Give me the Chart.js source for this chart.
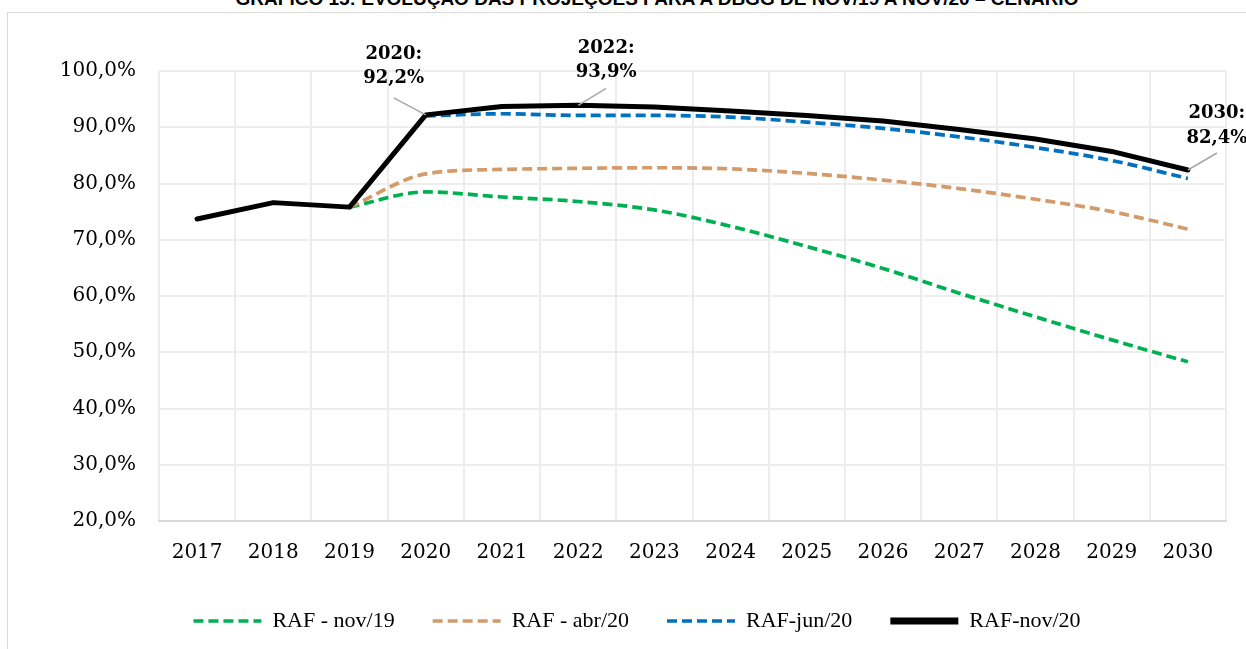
<!DOCTYPE html>
<html lang="pt">
<head>
<meta charset="UTF-8">
<title>Evolução das projeções para a DBGG</title>
<script src="https://cdn.jsdelivr.net/npm/chart.js"></script>
<style>
  html, body { margin: 0; padding: 0; background: #fff; overflow: hidden; }
  #title { position: absolute; top: -12px; left: 0; width: 1314px; text-align: center;
           font: bold 19px "Liberation Sans", sans-serif; white-space: nowrap; }
  #frame { position: absolute; left: 7px; top: 12px; width: 1300px; height: 700px;
           border: 1.5px solid #d9d9d9; }
  #wrap { position: absolute; left: 0; top: 0; width: 1246px; height: 649px; }
</style>
</head>
<body>
<div id="title">GRÁFICO 15: EVOLUÇÃO DAS PROJEÇÕES PARA A DBGG DE NOV/19 A NOV/20 – CENÁRIO</div>
<div id="frame"></div>
<div id="wrap"><canvas id="dbggChart" width="1246" height="649"></canvas></div>

<script>
// anos e projeções (% do PIB)
const years = ['2017', '2018', '2019', '2020', '2021', '2022', '2023', '2024', '2025', '2026', '2027', '2028', '2029', '2030'];
const rafNov19 = [null, null, 75.8, 78.5, 77.6, 76.8, 75.3, 72.4, 68.8, 64.9, 60.5, 56.3, 52.2, 48.3];
const rafAbr20 = [null, null, 75.8, 81.7, 82.5, 82.7, 82.8, 82.6, 81.8, 80.6, 79.1, 77.2, 75.0, 71.9];
const rafJun20 = [null, null, null, 92.0, 92.4, 92.1, 92.1, 91.8, 90.9, 89.8, 88.3, 86.4, 84.1, 80.9];
const rafNov20 = [73.7, 76.6, 75.8, 92.2, 93.7, 93.9, 93.6, 92.9, 92.1, 91.1, 89.6, 87.9, 85.7, 82.4];
const seriesNames = ['RAF - nov/19', 'RAF - abr/20', 'RAF-jun/20', 'RAF-nov/20'];
const yMin = 20, yMax = 100, yStep = 10;
const labelledYears = ['2020', '2022', '2030'];

const fmt = v => v.toFixed(1).replace('.', ',') + '%';

// rótulos de destaque da série RAF-nov/20 com linha de chamada
const callouts = {
    '2020': { dx: -32, lines: [-61, -37], lead: -17 },
    '2022': { dx: 28, lines: [-57, -33], lead: -17 },
    '2030': { dx: 29, lines: [-57, -32], lead: -17 }
};

const calloutPlugin = {
    id: 'callouts',
    afterDatasetsDraw(chart) {
        const ctx = chart.ctx;
        const xs = chart.scales.x, ys = chart.scales.y;
        ctx.save();
        labelledYears.forEach(yr => {
            const i = years.indexOf(yr);
            const c = callouts[yr];
            const px = xs.getPixelForValue(i);
            const py = ys.getPixelForValue(rafNov20[i]);
            ctx.strokeStyle = '#a6a6a6';
            ctx.lineWidth = 1.5;
            ctx.beginPath();
            ctx.moveTo(px, py);
            ctx.lineTo(px + c.dx, py + c.lead);
            ctx.stroke();
            ctx.fillStyle = '#000';
            ctx.font = 'bold 18px "DejaVu Serif"';
            ctx.textAlign = 'center';
            ctx.textBaseline = 'middle';
            ctx.fillText(yr + ':', px + c.dx, py + c.lines[0]);
            ctx.fillText(fmt(rafNov20[i]), px + c.dx, py + c.lines[1]);
        });
        ctx.restore();
    }
};

const dashed = { borderWidth: 3.7, borderDash: [10, 5], borderCapStyle: 'butt', cubicInterpolationMode: 'monotone' };

const ctx = document.getElementById('dbggChart').getContext('2d');
new Chart(ctx, {
    type: 'line',
    data: {
        labels: years,
        datasets: [
            { label: seriesNames[0], data: rafNov19, borderColor: '#00b050', backgroundColor: '#00b050', order: 3, ...dashed },
            { label: seriesNames[1], data: rafAbr20, borderColor: '#d39a6a', backgroundColor: '#d39a6a', order: 2, ...dashed },
            { label: seriesNames[2], data: rafJun20, borderColor: '#0070c0', backgroundColor: '#0070c0', order: 1, ...dashed },
            { label: seriesNames[3], data: rafNov20, borderColor: '#000000', backgroundColor: '#000000', order: 0,
              borderWidth: 5, tension: 0, borderJoinStyle: 'round', borderCapStyle: 'round' }
        ]
    },
    options: {
        responsive: false,
        animation: false,
        events: [],
        elements: { point: { radius: 0, pointStyle: 'line' } },
        layout: { padding: { left: 48, right: 20, top: 71, bottom: 7 } },
        scales: {
            x: {
                offset: true,
                grid: { offset: true, color: '#ededed', lineWidth: 2, drawTicks: false },
                border: { color: '#d9d9d9', width: 2 },
                ticks: { color: '#000', padding: 20, font: { family: 'DejaVu Serif', size: 20 }, maxRotation: 0 },
                afterFit(scale) { scale.height = 51; }
            },
            y: {
                min: yMin, max: yMax,
                grid: { color: '#ededed', lineWidth: 2, drawTicks: false },
                border: { display: false },
                ticks: { stepSize: yStep, color: '#000', padding: 23, font: { family: 'DejaVu Serif', size: 20 },
                         callback: v => fmt(v) },
                afterFit(scale) { scale.width = 111; }
            }
        },
        plugins: {
            legend: {
                position: 'bottom',
                labels: {
                    usePointStyle: true,
                    pointStyleWidth: 68,
                    boxWidth: 68,
                    padding: 38,
                    color: '#000',
                    font: { family: 'Liberation Serif', size: 22 },
                    sort: (a, b) => a.datasetIndex - b.datasetIndex,
                    generateLabels(chart) {
                        // amostra de linha com o mesmo traço da série
                        return Chart.defaults.plugins.legend.labels.generateLabels(chart).map(item => {
                            const ds = chart.data.datasets[item.datasetIndex];
                            item.pointStyle = 'line';
                            item.lineWidth = ds.borderDash ? ds.borderWidth : 7;
                            item.lineDash = ds.borderDash || [];
                            item.lineCap = 'butt';
                            item.strokeStyle = ds.borderColor;
                            return item;
                        });
                    }
                }
            },
            tooltip: { enabled: false }
        }
    },
    plugins: [calloutPlugin]
});
</script>
</body>
</html>
